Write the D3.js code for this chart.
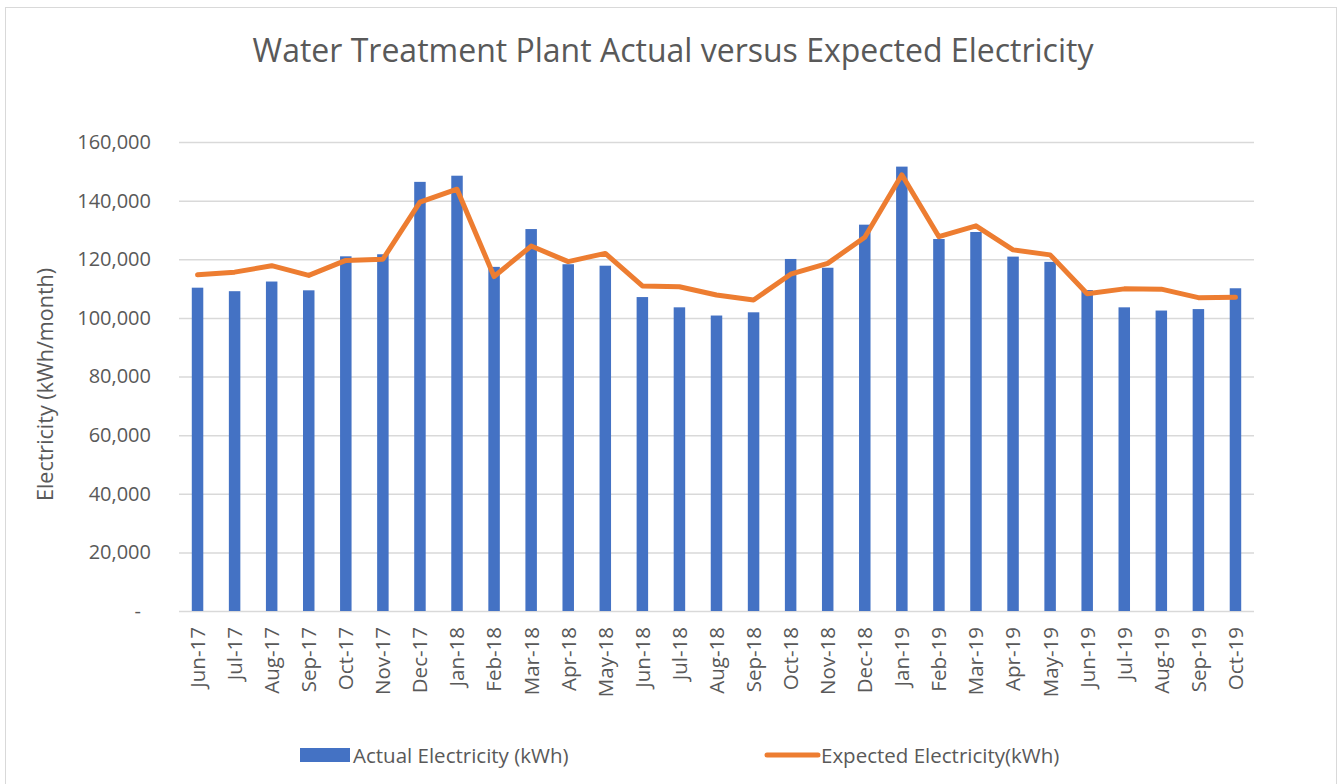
<!DOCTYPE html>
<html>
<head>
<meta charset="utf-8">
<script src="https://cdn.jsdelivr.net/npm/d3@7"></script>
<style>
  body { margin: 0; background: #fff; }
  text { font-family: "Open Sans", sans-serif; fill: #595959; }
</style>
</head>
<body>
<div id="corpo"></div>
<script>
// months on the x axis
var months = ["Jun-17","Jul-17","Aug-17","Sep-17","Oct-17","Nov-17","Dec-17",
  "Jan-18","Feb-18","Mar-18","Apr-18","May-18","Jun-18","Jul-18","Aug-18","Sep-18","Oct-18","Nov-18","Dec-18",
  "Jan-19","Feb-19","Mar-19","Apr-19","May-19","Jun-19","Jul-19","Aug-19","Sep-19","Oct-19"];

// kWh per month
var actual = [110300,109100,112400,109400,121000,121700,146400,
  148500,117400,130300,118300,117800,107100,103600,100800,101900,120100,117100,131800,
  151600,126900,129300,120900,119100,109500,103600,102500,103000,110100];

var expected = [114700,115600,117800,114500,119600,120000,139500,
  143900,114100,124500,119200,122000,110900,110600,107800,106100,114900,118600,127500,
  148800,127700,131400,123200,121500,108200,109900,109800,106900,107000];

var yTicks = [0,20000,40000,60000,80000,100000,120000,140000,160000];

var width = 1341, height = 784;
var margin = {top: 142, right: 87, bottom: 173, left: 179};

var svg = d3.select("#corpo").append("svg")
    .attr("width", width)
    .attr("height", height);

// chart border
svg.append("rect")
    .attr("x", 5.5).attr("y", 7.5)
    .attr("width", 1331).attr("height", 800)
    .style("fill", "none")
    .style("stroke", "#d9d9d9")
    .style("stroke-width", 1);

var x = d3.scaleBand()
    .domain(months)
    .range([margin.left, width - margin.right])
    .paddingInner(0.69)
    .paddingOuter(0.345);

var y = d3.scaleLinear()
    .domain([0, 160000])
    .range([height - margin.bottom, margin.top]);

// gridlines + y labels
var yAxis = d3.axisLeft(y)
    .tickValues(yTicks)
    .tickSize(-(width - margin.right - margin.left))
    .tickPadding(28)
    .tickFormat(function(d) { return d == 0 ? "-" : d3.format(",")(d); });

var gy = svg.append("g")
    .attr("transform", "translate(" + margin.left + ",0)")
    .call(yAxis);
gy.select(".domain").remove();
gy.selectAll(".tick line")
    .style("stroke", "#d9d9d9")
    .style("stroke-width", 1.5);
gy.selectAll(".tick text")
    .style("font-size", "20px")
    .style("fill", "#595959")
    .attr("dx", function(d) { return d == 0 ? -10 : 0; });

// bars
svg.selectAll(".bar")
    .data(actual)
    .enter().append("rect")
    .attr("class", "bar")
    .attr("x", function(d, i) { return x(months[i]); })
    .attr("width", x.bandwidth())
    .attr("y", function(d) { return y(d); })
    .attr("height", function(d) { return y(0) - y(d); })
    .style("fill", "#4472c4");

// x labels
var xAxis = d3.axisBottom(x).tickSize(0).tickPadding(0);
var gx = svg.append("g")
    .attr("transform", "translate(0," + y(0) + ")")
    .call(xAxis);
gx.select(".domain").remove();
gx.selectAll(".tick text")
    .attr("transform", "rotate(-90)")
    .attr("x", -16)
    .attr("y", 0)
    .attr("dy", "0.36em")
    .style("text-anchor", "end")
    .style("font-size", "20.5px")
    .style("fill", "#595959");

// expected line
var line = d3.line()
    .x(function(d, i) { return x(months[i]) + x.bandwidth() / 2; })
    .y(function(d) { return y(d); });

svg.append("path")
    .datum(expected)
    .attr("d", line)
    .style("fill", "none")
    .style("stroke", "#ed7d31")
    .style("stroke-width", 5)
    .style("stroke-linejoin", "round")
    .style("stroke-linecap", "round");

// title
svg.append("text")
    .attr("x", 673)
    .attr("y", 62)
    .style("text-anchor", "middle")
    .style("font-size", "32px")
    .text("Water Treatment Plant Actual versus Expected Electricity");

// y title
svg.append("text")
    .attr("transform", "translate(53," + ((margin.top + y(0)) / 2 + 8) + ") rotate(-90)")
    .style("text-anchor", "middle")
    .style("font-size", "21.5px")
    .text("Electricity (kWh/month)");

// legend
var legend = svg.append("g");
legend.append("rect")
    .attr("x", 300).attr("y", 748)
    .attr("width", 50).attr("height", 14)
    .style("fill", "#4472c4");
legend.append("text")
    .attr("x", 353).attr("y", 763)
    .style("font-size", "20.5px")
    .text("Actual Electricity (kWh)");
legend.append("line")
    .attr("x1", 767).attr("x2", 818)
    .attr("y1", 755).attr("y2", 755)
    .style("stroke", "#ed7d31")
    .style("stroke-width", 5)
    .style("stroke-linecap", "round");
legend.append("text")
    .attr("x", 821).attr("y", 763)
    .style("font-size", "20.5px")
    .text("Expected Electricity(kWh)");
</script>
</body>
</html>
